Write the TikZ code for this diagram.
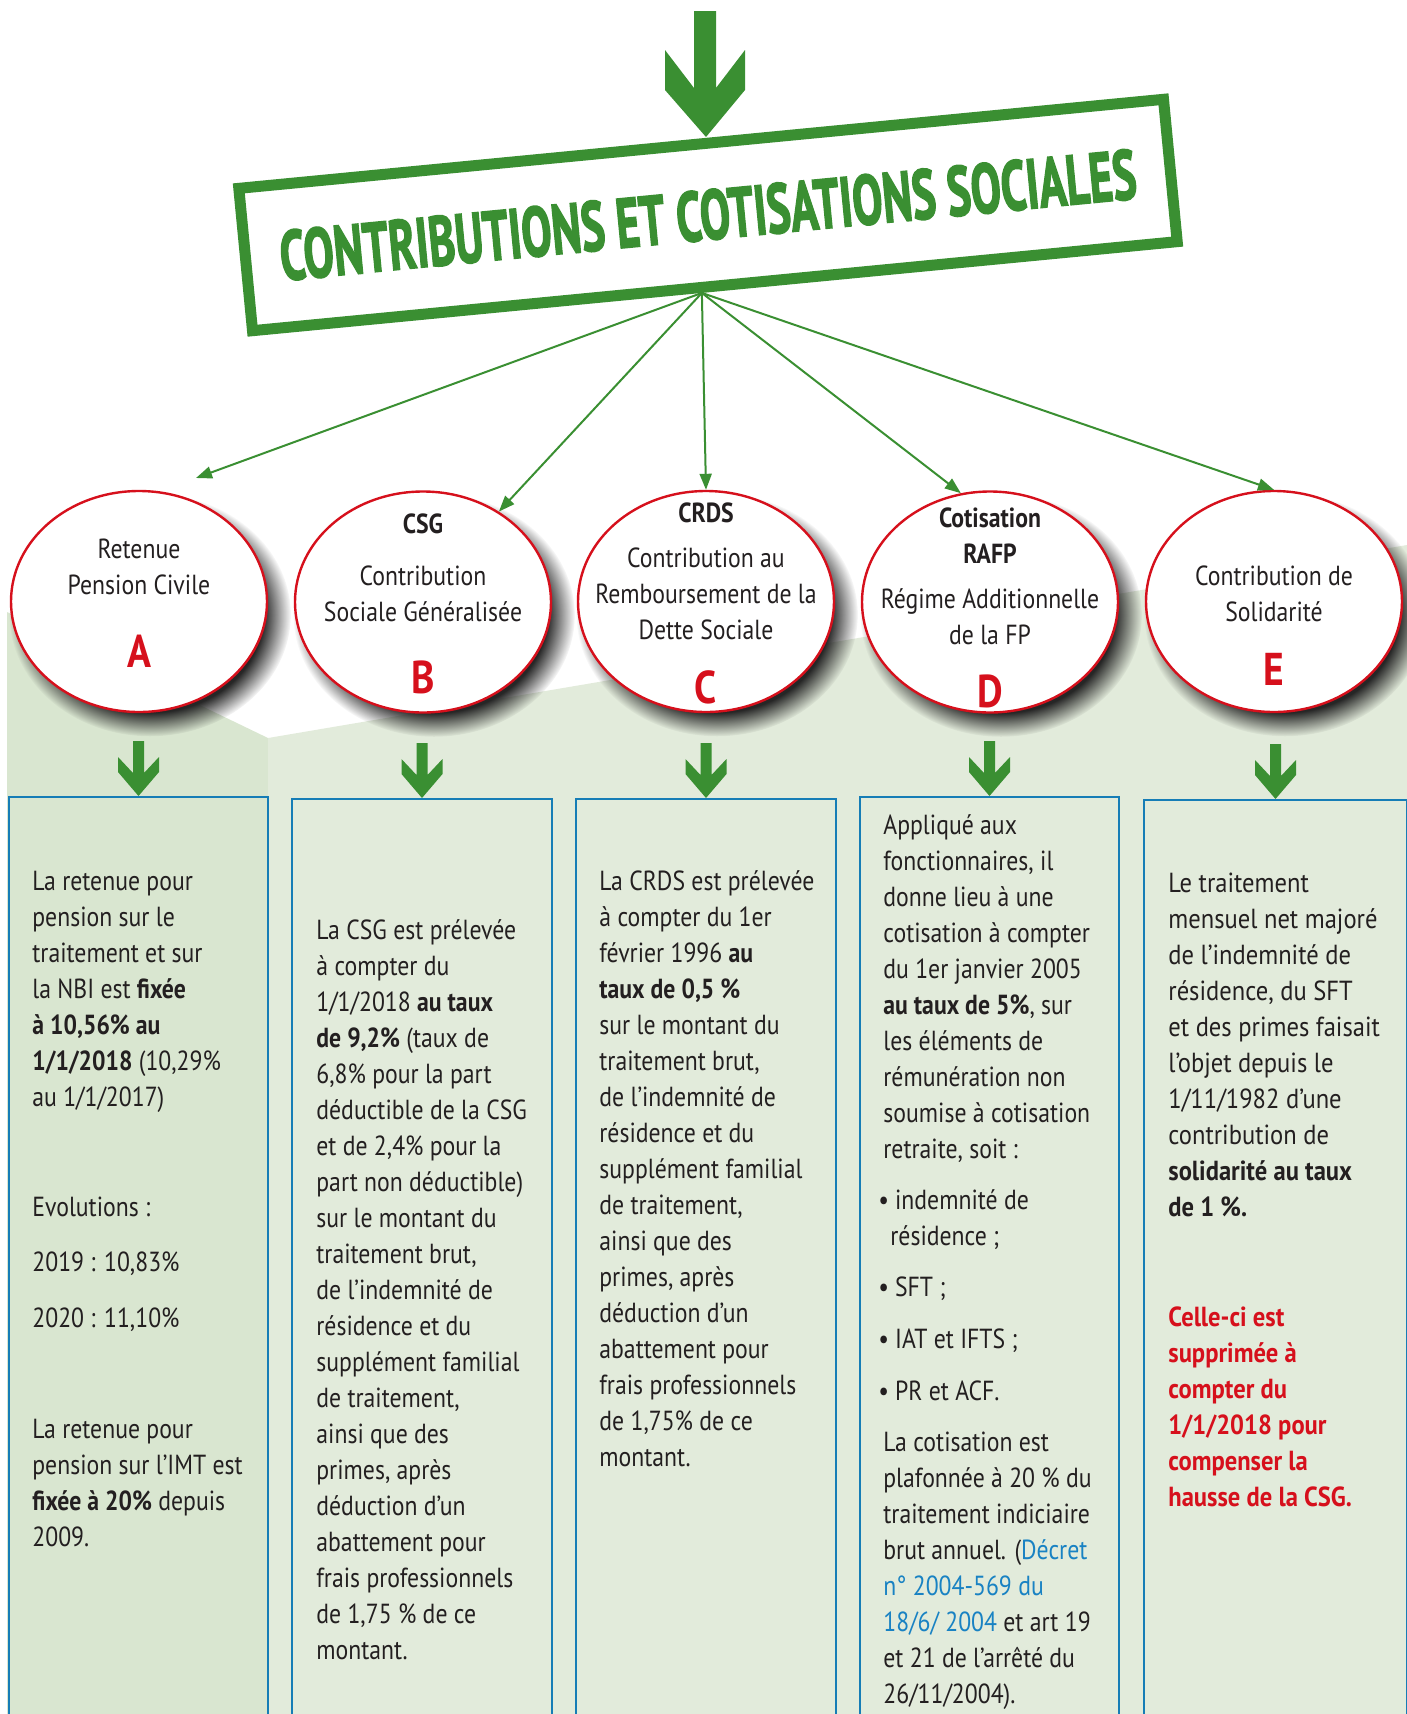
\documentclass[tikz,border=0pt]{standalone}
\usepackage{fontspec}
\setmainfont{PT Sans}[FakeStretch=0.86]
\newfontfamily\widefont{PT Sans}[FakeStretch=0.89]
\newfontfamily\titlefont{PT Sans}[BoldFeatures={FakeBold=2.5}]
\usetikzlibrary{shapes.geometric,shadows,fadings,arrows.meta}

\definecolor{cgreen}{RGB}{58,143,50}
\definecolor{cred}{RGB}{214,16,28}
\definecolor{cblue}{RGB}{22,125,182}
\definecolor{clink}{RGB}{25,130,195}
\definecolor{ctext}{RGB}{35,31,32}
\definecolor{panelA}{RGB}{217,230,208}
\definecolor{panel}{RGB}{226,235,219}

\newcommand{\bodysize}{\fontsize{13.8}{18}\selectfont}
\newcommand{\fl}{\rule{0pt}{14pt}}% first line strut

% green chevron arrow ending on the north side of a box
\newcommand{\chevron}[1]{%
  \fill[cgreen] ([shift={(-5.5,-55)}]#1.north) -- ([shift={(5.5,-55)}]#1.north)
    -- ([shift={(5.5,-23)}]#1.north) -- ([shift={(20.5,-39)}]#1.north)
    -- ([shift={(20.5,-24)}]#1.north) -- (#1.north)
    -- ([shift={(-20.5,-24)}]#1.north) -- ([shift={(-20.5,-39)}]#1.north)
    -- ([shift={(-5.5,-23)}]#1.north) -- cycle;}

\tikzset{
  titlebox/.style={draw=cgreen, line width=5.5pt, fill=white, text=cgreen,
    minimum width=464.5pt, minimum height=71.5pt, inner sep=0pt, rotate=5.5},
  bubble/.style={ellipse, draw=cred, line width=1.2pt, fill=white,
    minimum width=128pt, minimum height=110.5pt, inner sep=0pt,
    general shadow={shadow scale=1.1, shadow xshift=5pt, shadow yshift=-6pt,
      fill=black!85, path fading={circle with fuzzy edge 20 percent}}},
  bubtext/.style={anchor=north, align=center, inner sep=0pt, text=ctext, font=\bodysize},
  letter/.style={anchor=base, inner sep=0pt, text=cred, font=\fontsize{23}{23}\selectfont\bfseries},
  infobox/.style={draw=cblue, line width=1pt, anchor=north west,
    minimum height=470pt, inner sep=0pt},
  boxtext/.style={anchor=north west, align=left, inner sep=0pt, text=ctext, font=\bodysize},
  link/.style={draw=cgreen, line width=1pt, -{Triangle[length=8pt,width=6pt]}}
}

\begin{document}
\begin{tikzpicture}[x=0.5pt, y=-0.5pt]
  \clip (0,0) rectangle (1407,1714);

  % background panels
  \fill[panelA] (7,612) -- (268,738) -- (268,1714) -- (7,1714) -- cycle;
  \fill[panel] (268,738) -- (1407,545) -- (1407,1714) -- (268,1714) -- cycle;

  % top arrow
  \fill[cgreen] (694,11) -- (716,11) -- (716,88) -- (745,50) -- (745,90)
    -- (706,137) -- (665,90) -- (665,50) -- (694,88) -- cycle;

  % title
  \node[titlebox] (title) at (708,215)
    {\resizebox{430pt}{25pt}{\titlefont\bfseries CONTRIBUTIONS ET COTISATIONS SOCIALES}};

  % bubbles
  \node[bubble] (cA) at (139,601.5) {};
  \node[bubble] (cB) at (423,602) {};
  \node[bubble] (cC) at (706,601.5) {};
  \node[bubble] (cD) at (990,602) {};
  \node[bubble] (cE) at (1274,601.5) {};

  \node[bubtext] (nA) at (139,530) {\fl Retenue\\Pension Civile};
  \node[bubtext] (nB) at (423,505) {\fl\textbf{CSG}\\[8pt]Contribution\\Sociale Généralisée};
  \node[bubtext] (nC) at (706,494) {\fl\textbf{CRDS}\\[4.5pt]Contribution au\\Remboursement de la\\Dette Sociale};
  \node[bubtext] (nD) at (990,499) {\fl\textbf{Cotisation}\\\textbf{RAFP}\\[4.5pt]Régime Additionnelle\\de la FP};
  \node[bubtext] (nE) at (1274,557) {\fl Contribution de\\Solidarité};

  \node[letter] (lA) at (139,667) {A};
  \node[letter] (lB) at (423,693) {B};
  \node[letter] (lC) at (706,703) {C};
  \node[letter] (lD) at (990,707) {D};
  \node[letter] (lE) at (1274,685) {E};

  % links from the title
  \coordinate (tA) at (196,478);
  \draw[link] (title.260) -- (tA);
  \draw[link] (title.260) -- (cB.50);
  \draw[link] (title.260) -- (cC.north);
  \draw[link] (title.260) -- (cD.105);
  \draw[link] (title.260) -- (cE.north);

  % boxes
  \node[infobox, fill=panelA, minimum width=129.5pt] (bA) at (8,796) {};
  \node[infobox, fill=panel, minimum width=130pt] (bB) at (291,798) {};
  \node[infobox, fill=panel, minimum width=130pt] (bC) at (575,798) {};
  \node[infobox, fill=panel, minimum width=129.5pt] (bD) at (859,796) {};
  \node[infobox, fill=panel, minimum width=131.5pt] (bE) at (1143,799) {};

  \chevron{bA}
  \chevron{bB}
  \chevron{bC}
  \chevron{bD}
  \chevron{bE}

  % box texts
  \node[boxtext] (xA) at (32,862) {\fl La retenue pour\\pension sur le\\traitement et sur\\la NBI est \textbf{fixée}\\\textbf{à 10,56\% au}\\\textbf{1/1/2018} (10,29\%\\au 1/1/2017)\\[37pt]Evolutions :\\[9.5pt]2019 : 10,83\%\\[10pt]2020 : 11,10\%\\[37.5pt]La retenue pour\\pension sur l’IMT est\\\textbf{fixée à 20\%} depuis\\2009.};

  \node[boxtext] (xB) at (316,911) {\fl La CSG est prélevée\\à compter du\\1/1/2018 \textbf{au taux}\\\textbf{de 9,2\%} (taux de\\6,8\% pour la part\\déductible de la CSG\\et de 2,4\% pour la\\part non déductible)\\sur le montant du\\traitement brut,\\de l’indemnité de\\résidence et du\\supplément familial\\de traitement,\\ainsi que des\\primes, après\\déduction d’un\\abattement pour\\frais professionnels\\de 1,75 \% de ce\\montant.};

  \node[boxtext] (xC) at (599,862) {\fl La CRDS est prélevée\\à compter du 1er\\février 1996 \textbf{au}\\\textbf{taux de 0,5 \%}\\sur le montant du\\traitement brut,\\de l’indemnité de\\résidence et du\\supplément familial\\de traitement,\\ainsi que des\\primes, après\\déduction d’un\\abattement pour\\frais professionnels\\de 1,75\% de ce\\montant.};

  \node[boxtext] (xD) at (883,806) {\fl Appliqué aux\\fonctionnaires, il\\donne lieu à une\\cotisation à compter\\du 1er janvier 2005\\\textbf{au taux de 5\%}, sur\\les éléments de\\rémunération non\\soumise à cotisation\\retraite, soit :};
  \node[boxtext] (xD2) at (878,1181) {\fl •\hspace{3pt}indemnité de\\\hspace*{6pt}résidence ;\\[7.5pt]•\hspace{3pt}SFT ;\\[8pt]•\hspace{3pt}IAT et IFTS ;\\[8pt]•\hspace{3pt}PR et ACF.};
  \node[boxtext] (xD3) at (883,1423) {\fl La cotisation est\\plafonnée à 20 \% du\\traitement indiciaire\\brut annuel. (\textcolor{clink}{Décret}\\\textcolor{clink}{n° 2004-569 du}\\\textcolor{clink}{18/6/ 2004} et art 19\\et 21 de l’arrêté du\\26/11/2004).};

  \node[boxtext, font=\bodysize\widefont] (xE) at (1168,864) {\fl Le traitement\\mensuel net majoré\\de l’indemnité de\\résidence, du SFT\\et des primes faisait\\l’objet depuis le\\1/11/1982 d’une\\contribution de\\\textbf{solidarité au taux}\\\textbf{de 1 \%.}};
  \node[boxtext, font=\bodysize\widefont\bfseries, text=cred] (xE2) at (1168,1298) {\fl Celle-ci est\\supprimée à\\compter du\\1/1/2018 pour\\compenser la\\hausse de la CSG.};
\end{tikzpicture}
\end{document}
